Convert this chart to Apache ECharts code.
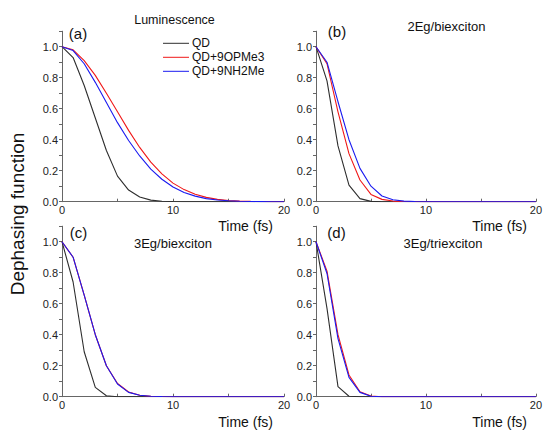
<!DOCTYPE html>
<html>
<head>
<meta charset="utf-8">
<script src="https://cdn.jsdelivr.net/npm/echarts@6/dist/echarts.min.js"></script>
<style>html,body{margin:0;padding:0;background:#fff}#c{width:545px;height:431px}</style>
</head>
<body>
<div id="c"></div>
<script>
// ---- data ----
const times = [0,1,2,3,4,5,6,7,8,9,10,11,12,13,14,15,16,17,18,19,20];
const seriesNames = ['QD', 'QD+9OPMe3', 'QD+9NH2Me'];
const panelLabels = ['(a)', '(b)', '(c)', '(d)'];
const panelTitles = ['Luminescence', '2Eg/biexciton', '3Eg/biexciton', '3Eg/triexciton'];
const xTickLabels = ['0', '10', '20'];
const yTickLabels = ['0.0', '0.2', '0.4', '0.6', '0.8', '1.0'];

// (a) Luminescence
const lumQD    = [1, 0.93, 0.75, 0.54, 0.33, 0.165, 0.075, 0.03, 0.01, 0.003, 0.001, 0, 0, 0, 0, 0, 0, 0, 0, 0, 0];
const lumOPMe3 = [1, 0.98, 0.91, 0.815, 0.70, 0.58, 0.46, 0.35, 0.255, 0.18, 0.12, 0.078, 0.048, 0.028, 0.015, 0.008, 0.004, 0.002, 0.001, 0, 0];
const lumNH2Me = [1, 0.975, 0.89, 0.77, 0.64, 0.51, 0.395, 0.295, 0.21, 0.145, 0.095, 0.06, 0.036, 0.02, 0.011, 0.006, 0.003, 0.001, 0.0005, 0, 0];
// (b) 2Eg/biexciton
const bx2QD    = [1, 0.78, 0.36, 0.107, 0.02, 0.002, 0, 0, 0, 0, 0, 0, 0, 0, 0, 0, 0, 0, 0, 0, 0];
const bx2OPMe3 = [1, 0.89, 0.58, 0.31, 0.14, 0.047, 0.015, 0.004, 0.001, 0, 0, 0, 0, 0, 0, 0, 0, 0, 0, 0, 0];
const bx2NH2Me = [1, 0.90, 0.645, 0.40, 0.215, 0.10, 0.037, 0.013, 0.004, 0.001, 0, 0, 0, 0, 0, 0, 0, 0, 0, 0, 0];
// (c) 3Eg/biexciton
const bx3QD    = [1, 0.74, 0.29, 0.06, 0.006, 0, 0, 0, 0, 0, 0, 0, 0, 0, 0, 0, 0, 0, 0, 0, 0];
const bx3OPMe3 = [1, 0.90, 0.655, 0.40, 0.20, 0.085, 0.03, 0.009, 0.003, 0.001, 0, 0, 0, 0, 0, 0, 0, 0, 0, 0, 0];
const bx3NH2Me = [1, 0.90, 0.655, 0.40, 0.20, 0.082, 0.028, 0.009, 0.003, 0.001, 0, 0, 0, 0, 0, 0, 0, 0, 0, 0, 0];
// (d) 3Eg/triexciton
const tx3QD    = [1, 0.57, 0.065, 0.003, 0, 0, 0, 0, 0, 0, 0, 0, 0, 0, 0, 0, 0, 0, 0, 0, 0];
const tx3OPMe3 = [1, 0.81, 0.40, 0.14, 0.032, 0.004, 0, 0, 0, 0, 0, 0, 0, 0, 0, 0, 0, 0, 0, 0, 0];
const tx3NH2Me = [1, 0.795, 0.375, 0.125, 0.028, 0.003, 0, 0, 0, 0, 0, 0, 0, 0, 0, 0, 0, 0, 0, 0, 0];

const panels = [
  [lumQD, lumOPMe3, lumNH2Me],
  [bx2QD, bx2OPMe3, bx2NH2Me],
  [bx3QD, bx3OPMe3, bx3NH2Me],
  [tx3QD, tx3OPMe3, tx3NH2Me]
];

// ---- layout / style ----
const FONT = '"Liberation Sans", Arial, sans-serif';
const colors = ['#2e2e2e', '#f01818', '#1a1af0'];
const grids = [
  {left: 62, top: 31.2, width: 222, height: 170.5},
  {left: 316, top: 31.2, width: 222, height: 170.5},
  {left: 62, top: 226.2, width: 222, height: 170.5},
  {left: 316, top: 226.2, width: 222, height: 170.5}
];
const axisColor = '#666666';
const labelColor = '#222222';

const xAxes = grids.map((g, i) => ({
  type: 'value', gridIndex: i, min: 0, max: 20, interval: 5,
  axisLine: {show: true, onZero: false, lineStyle: {color: axisColor, width: 1}},
  axisTick: {show: true, inside: true, length: 3, lineStyle: {color: axisColor}},
  splitLine: {show: false},
  axisLabel: {
    color: labelColor, fontFamily: FONT, fontSize: 11, margin: 3,
    formatter: v => { const s = String(Math.round(v)); return xTickLabels.indexOf(s) >= 0 ? s : ''; }
  }
}));
const yAxes = grids.map((g, i) => ({
  type: 'value', gridIndex: i, min: 0, max: 1.1, interval: 0.1,
  axisLine: {show: true, onZero: false, lineStyle: {color: axisColor, width: 1}},
  axisTick: {show: true, inside: false, length: 3, lineStyle: {color: axisColor}},
  splitLine: {show: false},
  axisLabel: {
    color: labelColor, fontFamily: FONT, fontSize: 11, margin: 4,
    formatter: v => { const s = (Math.round(v * 10) / 10).toFixed(1); return yTickLabels.indexOf(s) >= 0 ? s : ''; }
  }
}));

const series = [];
panels.forEach((p, gi) => {
  p.forEach((vals, si) => {
    series.push({
      name: seriesNames[si], type: 'line', xAxisIndex: gi, yAxisIndex: gi,
      data: times.map((t, k) => [t, vals[k]]),
      showSymbol: false, symbol: 'none', smooth: false, silent: true, animation: false,
      lineStyle: {color: colors[si], width: 1.1},
      itemStyle: {color: colors[si]}
    });
  });
});

const labelPos = [[78, 33], [337, 31], [78.5, 232], [336.5, 232]];
const titlePos = [[174.5, 20], [446.5, 26], [173, 243], [443, 243]];
const timePos = [[273, 226], [527, 226], [273, 422], [527, 422]];

const graphic = [];
panelLabels.forEach((t, i) => graphic.push({type: 'text', style: {text: t, x: labelPos[i][0], y: labelPos[i][1], align: 'center', verticalAlign: 'middle', fontSize: 15, fontFamily: FONT, fill: '#111'}}));
panelTitles.forEach((t, i) => graphic.push({type: 'text', style: {text: t, x: titlePos[i][0], y: titlePos[i][1], align: 'center', verticalAlign: 'middle', fontSize: i === 0 ? 12.5 : 13, fontFamily: FONT, fill: '#111'}}));
timePos.forEach(p => graphic.push({type: 'text', style: {text: 'Time (fs)', x: p[0], y: p[1], align: 'right', verticalAlign: 'middle', fontSize: 14, fontFamily: FONT, fill: '#111'}}));
graphic.push({type: 'text', x: 17, y: 214, rotation: Math.PI / 2, style: {text: 'Dephasing function', x: 0, y: 0, align: 'center', verticalAlign: 'middle', fontSize: 19, fontFamily: FONT, fill: '#111'}});

const chart = echarts.init(document.getElementById('c'), null, {renderer: 'svg'});
chart.setOption({
  animation: false,
  backgroundColor: '#ffffff',
  grid: grids,
  xAxis: xAxes,
  yAxis: yAxes,
  legend: {
    data: seriesNames, orient: 'vertical', left: 163, top: 36.3,
    itemWidth: 26, itemHeight: 1, itemGap: 0, icon: 'rect', selectedMode: false,
    textStyle: {fontFamily: FONT, fontSize: 12, color: '#111', lineHeight: 14, padding: [0, 0, 0, -2]},
    padding: 0
  },
  graphic: graphic,
  series: series
});
</script>
</body>
</html>
